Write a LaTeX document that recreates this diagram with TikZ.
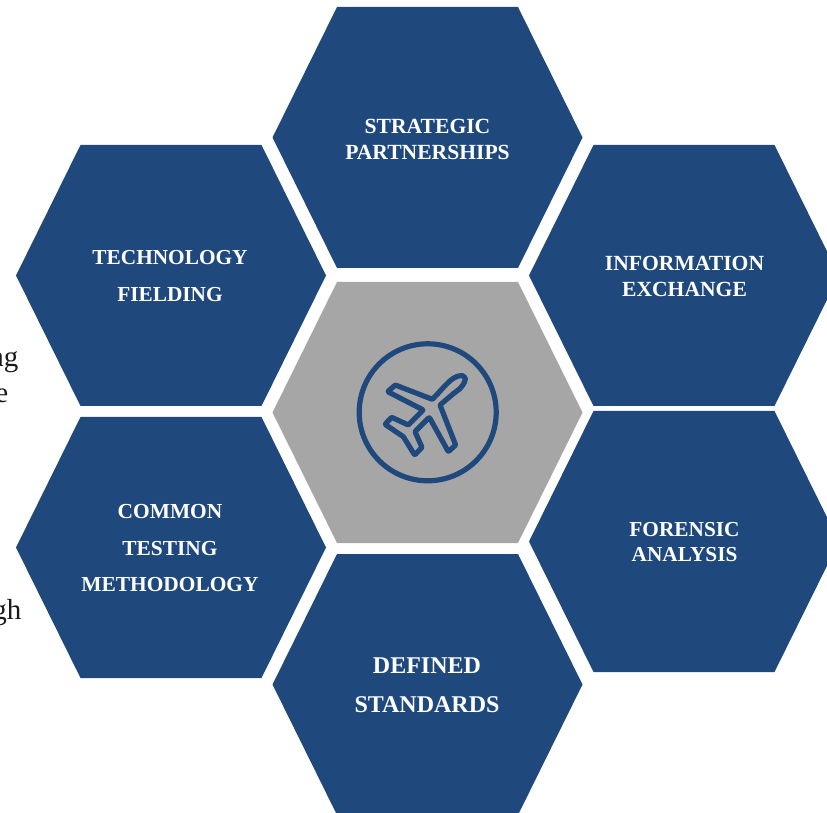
\documentclass[tikz,border=0pt]{standalone}
\usepackage{fontspec}
\setmainfont{Liberation Serif}
\definecolor{hexblue}{HTML}{1F497D}
\definecolor{hexgray}{HTML}{A6A6A6}
\definecolor{bodytext}{HTML}{1A1A1A}
\tikzset{
  hexfill/.style={fill=hexblue},
  hexlabel/.style={text=white,align=center,inner sep=0pt,font=\bfseries},
  cuttext/.style={text=bodytext,inner sep=0pt,anchor=base east,font=\fontsize{29}{29}\selectfont},
  iconline/.style={draw=hexblue,line width=5.2pt,line join=round,line cap=round,rounded corners=0.8pt}
}
\newcommand{\hexa}[3]{%
  \fill[#1] (#2-90.5,812-#3) -- (#2+90.5,812-#3) -- (#2+155,812-#3-130.5) --
    (#2+90.5,812-#3-261) -- (#2-90.5,812-#3-261) -- (#2-155,812-#3-130.5) -- cycle;}
\begin{document}
\begin{tikzpicture}[x=1pt,y=1pt]
\useasboundingbox (0,0) rectangle (827,812);
\clip (0,0) rectangle (827,812);
\fill[white] (0,0) rectangle (827,812);
\node[cuttext] (t1) at (18.5,812-367) {ng};
\node[cuttext] (t2) at (8.5,812-403) {e};
\node[cuttext] (t3) at (21.5,812-619) {gh};
\hexa{hexfill}{427.5}{7}
\hexa{hexfill}{171}{145}
\hexa{hexfill}{684}{145}
\hexa{fill=hexgray}{427.5}{282}
\hexa{hexfill}{171}{417}
\hexa{hexfill}{684}{411}
\hexa{hexfill}{427.5}{554}
\node[hexlabel,font=\bfseries\fontsize{21.6}{26}\selectfont] (strategic) at (427.5,812-139) {STRATEGIC\\PARTNERSHIPS};
\node[hexlabel,font=\bfseries\fontsize{21.3}{37}\selectfont] (technology) at (170,812-276.5) {TECHNOLOGY\\FIELDING};
\node[hexlabel,font=\bfseries\fontsize{21.6}{26}\selectfont] (information) at (684.5,812-276) {INFORMATION\\EXCHANGE};
\node[hexlabel,font=\bfseries\fontsize{21.3}{25}\selectfont] (forensic) at (684.5,812-542.5) {FORENSIC\\ANALYSIS};
\node[hexlabel,font=\bfseries\fontsize{21.4}{36.5}\selectfont] (common) at (170,812-548.5) {COMMON\\TESTING\\METHODOLOGY};
\node[hexlabel,font=\bfseries\fontsize{24}{39}\selectfont] (defined) at (427,812-685.5) {DEFINED\\STANDARDS};
\node[circle,draw=hexblue,line width=5.2pt,minimum size=137pt,inner sep=0pt] (ring) at (427.7,812-412.3) {};
\begin{scope}[shift={(340,812-330)},x=0.3333pt,y=-0.3333pt]
\draw[iconline] (277,208) .. controls (310,175) and (335,137) .. (366,137)
  .. controls (385,140) and (372,170) .. (345,187) -- (300,225)
  -- (347,345) -- (325,365) -- (268,262) -- (225,305) -- (246,352) -- (224,375)
  -- (190,320) -- (135,283) -- (155,262) -- (205,285) -- (250,240)
  -- (143,185) -- (166,165) -- cycle;
\end{scope}
\end{tikzpicture}
\end{document}
